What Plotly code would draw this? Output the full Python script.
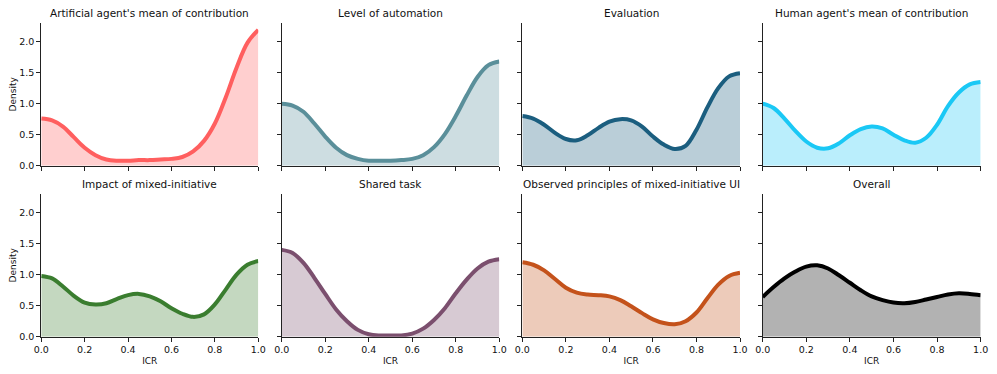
import plotly.graph_objects as go

icr = [0.0, 0.05, 0.1, 0.15, 0.2, 0.25, 0.3, 0.35, 0.4, 0.45, 0.5,
       0.55, 0.6, 0.65, 0.7, 0.75, 0.8, 0.85, 0.9, 0.95, 1.0]

titles = [
    "Artificial agent's mean of contribution",
    "Level of automation",
    "Evaluation",
    "Human agent's mean of contribution",
    "Impact of mixed-initiative",
    "Shared task",
    "Observed principles of mixed-initiative UI",
    "Overall",
]

artificial_agent = [0.76, 0.73, 0.63, 0.46, 0.29, 0.17, 0.10, 0.08, 0.08, 0.09, 0.09,
                    0.10, 0.11, 0.14, 0.23, 0.40, 0.68, 1.10, 1.58, 1.98, 2.19]
level_automation = [1.00, 0.97, 0.87, 0.68, 0.47, 0.29, 0.17, 0.11, 0.08, 0.08, 0.08,
                    0.09, 0.11, 0.17, 0.30, 0.51, 0.80, 1.13, 1.43, 1.62, 1.68]
evaluation = [0.80, 0.76, 0.66, 0.53, 0.43, 0.41, 0.49, 0.61, 0.71, 0.75, 0.73,
              0.63, 0.47, 0.34, 0.27, 0.32, 0.58, 0.94, 1.25, 1.44, 1.49]
human_agent = [1.00, 0.93, 0.76, 0.56, 0.39, 0.29, 0.28, 0.36, 0.49, 0.59, 0.63,
               0.60, 0.50, 0.41, 0.37, 0.45, 0.66, 0.96, 1.18, 1.31, 1.35]
impact = [0.98, 0.94, 0.81, 0.66, 0.55, 0.52, 0.54, 0.61, 0.67, 0.69, 0.65,
          0.57, 0.46, 0.37, 0.32, 0.36, 0.52, 0.76, 1.00, 1.16, 1.22]
shared_task = [1.40, 1.35, 1.19, 0.95, 0.69, 0.44, 0.25, 0.11, 0.04, 0.02, 0.02,
               0.02, 0.05, 0.13, 0.27, 0.46, 0.70, 0.92, 1.10, 1.21, 1.25]
observed_ui = [1.20, 1.16, 1.07, 0.93, 0.79, 0.71, 0.68, 0.67, 0.65, 0.59, 0.49,
               0.38, 0.28, 0.22, 0.20, 0.25, 0.39, 0.62, 0.84, 0.98, 1.03]
overall = [0.64, 0.80, 0.94, 1.05, 1.13, 1.15, 1.10, 0.99, 0.87, 0.75, 0.65,
           0.59, 0.55, 0.54, 0.56, 0.60, 0.64, 0.68, 0.70, 0.69, 0.67]

series = [artificial_agent, level_automation, evaluation, human_agent,
          impact, shared_task, observed_ui, overall]

colors = [(255, 95, 95), (90, 143, 154), (27, 94, 127), (26, 200, 245),
          (58, 125, 47), (123, 79, 110), (196, 82, 27), (0, 0, 0)]

# figure sits inside the page body (8px margin), so size it to fit the window
W, H = 981, 358

x_domains = [[0.0339, 0.2551], [0.2790, 0.5008], [0.5243, 0.7462], [0.7693, 0.9915]]
y_domains = [[0.5595, 0.9581], [0.0818, 0.4804]]

FONT = "DejaVu Sans"
fig = go.Figure()
layout = {}
annotations = []

for i, (name, vals, rgb) in enumerate(zip(titles, series, colors)):
    row, col = divmod(i, 4)
    n = i + 1
    suffix = "" if n == 1 else str(n)
    r, g, b = rgb

    fig.add_trace(go.Scatter(
        x=icr, y=vals,
        mode="lines",
        line=dict(color=f"rgb({r},{g},{b})", width=4, shape="spline", smoothing=1.0),
        fill="tozeroy",
        fillcolor=f"rgba({r},{g},{b},0.3)",
        xaxis=f"x{suffix}", yaxis=f"y{suffix}",
        showlegend=False,
        hoverinfo="skip",
    ))

    bottom = row == 1
    left = col == 0
    layout[f"xaxis{suffix}"] = dict(
        domain=x_domains[col], anchor=f"y{suffix}",
        range=[0, 1], tickvals=[0, 0.2, 0.4, 0.6, 0.8, 1.0],
        ticktext=["0.0", "0.2", "0.4", "0.6", "0.8", "1.0"],
        showticklabels=bottom, automargin=False,
        ticks="outside", ticklen=4, tickwidth=1, tickcolor="#222",
        showline=True, linecolor="#222", linewidth=1,
        showgrid=False, zeroline=False,
        title=dict(text="ICR" if bottom else "", standoff=3, font=dict(size=9)),
        tickfont=dict(size=9.5),
    )
    layout[f"yaxis{suffix}"] = dict(
        domain=y_domains[row], anchor=f"x{suffix}",
        range=[0, 2.3], tickvals=[0, 0.5, 1.0, 1.5, 2.0],
        ticktext=["0.0", "0.5", "1.0", "1.5", "2.0"],
        showticklabels=left, automargin=False,
        ticks="outside", ticklen=4, tickwidth=1, tickcolor="#222",
        showline=True, linecolor="#222", linewidth=1,
        showgrid=False, zeroline=False,
        title=dict(text="Density" if left else "", standoff=6, font=dict(size=9)),
        tickfont=dict(size=9.5),
    )

    # panel title
    annotations.append(dict(
        text=name, showarrow=False,
        x=sum(x_domains[col]) / 2, y=y_domains[row][1],
        xref="paper", yref="paper", xanchor="center", yanchor="bottom",
        yshift=2, font=dict(size=10.5, color="#111"),
    ))

fig.update_layout(
    width=W, height=H,
    margin=dict(l=0, r=0, t=0, b=0),
    paper_bgcolor="white", plot_bgcolor="white",
    font=dict(family=FONT, color="#111"),
    annotations=annotations,
    **layout,
)

fig.write_html("out.html")
